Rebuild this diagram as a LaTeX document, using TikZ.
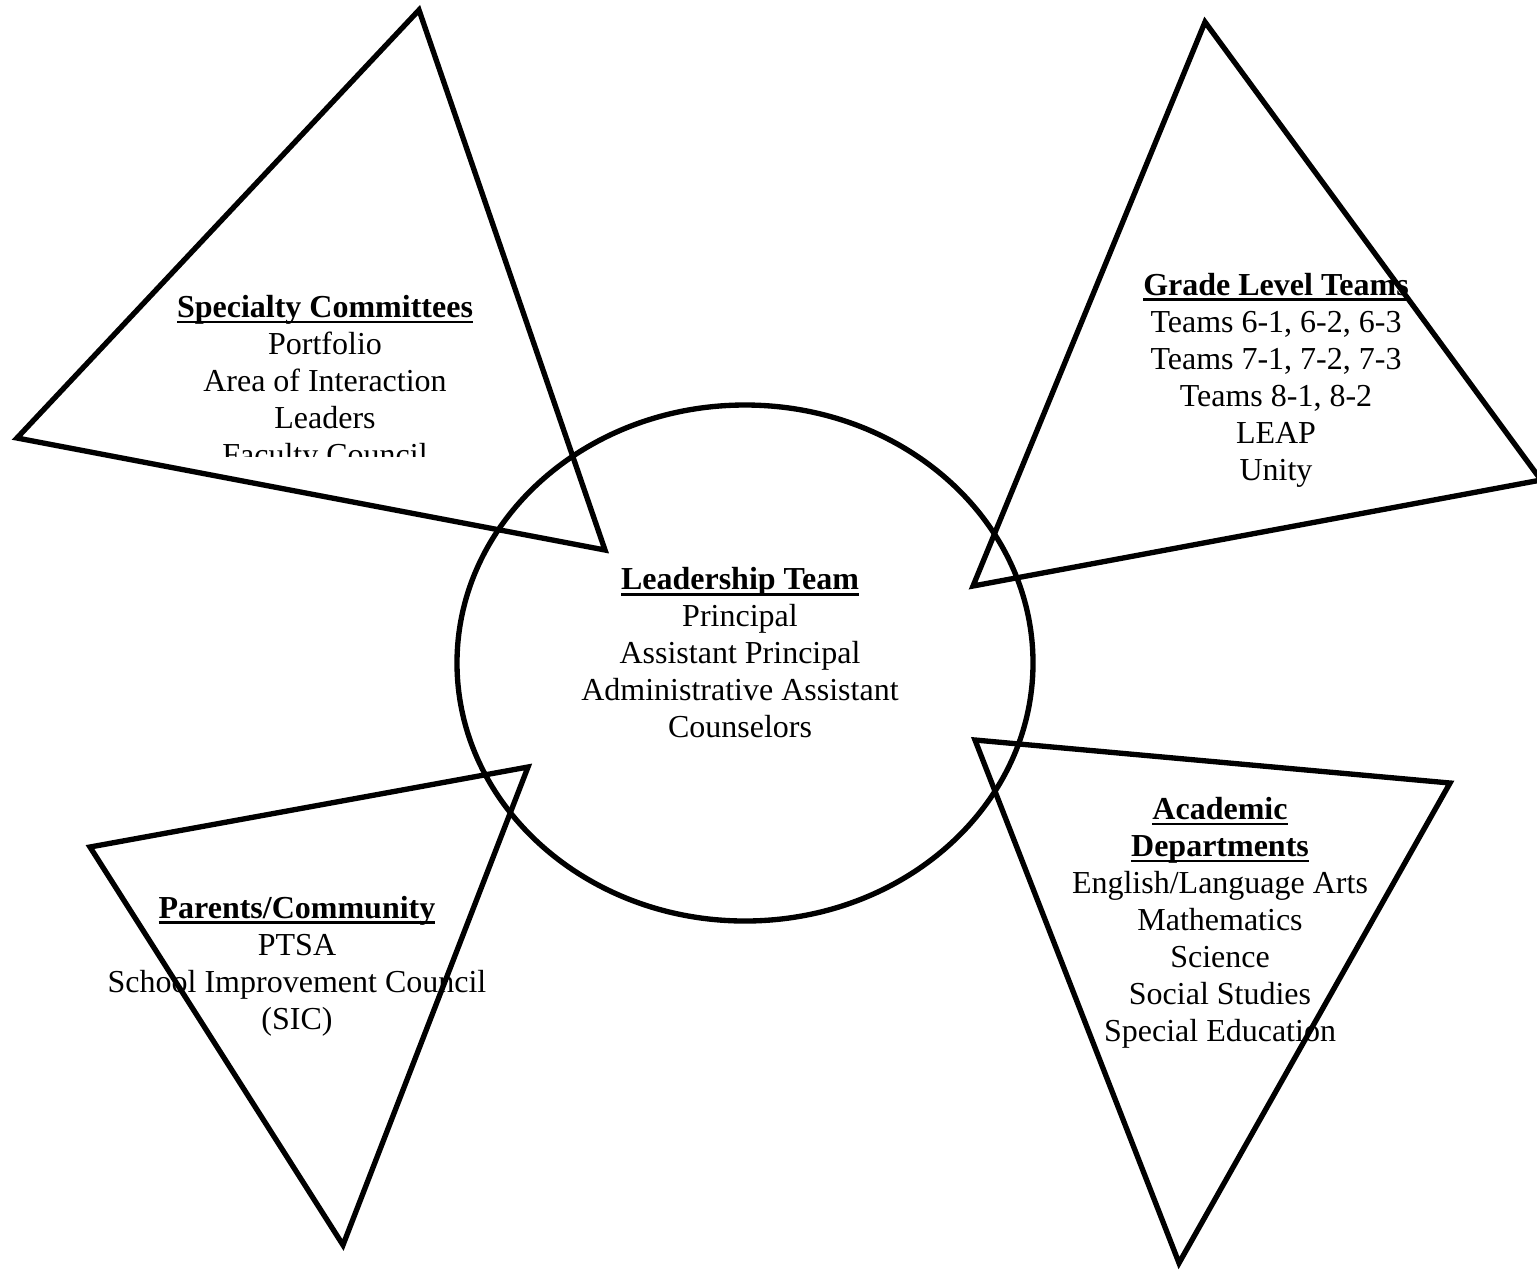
\documentclass[tikz,border=0pt]{standalone}
\usepackage{fontspec}
\setmainfont{Liberation Serif}
\usepackage{tikz}
\usetikzlibrary{positioning}

\newcommand{\hdr}[1]{\setbox0\hbox{\bfseries #1}\leavevmode\rlap{\rule[-2.1pt]{\wd0}{0.9pt}}\box0}

\tikzset{
  block/.style={align=center, inner sep=0pt, font=\fontsize{12}{13.875}\selectfont},
  outline/.style={line width=2pt, line join=miter}
}

\begin{document}
\begin{tikzpicture}[x=0.375pt, y=-0.375pt]
    \useasboundingbox (0,0) rectangle (1537,1269);
    % texts of the five groups
    \node[block] (lead) at (740,653) {\hdr{Leadership Team}\\Principal\\Assistant Principal\\Administrative Assistant\\Counselors};
    \begin{scope}
        \clip (100,250) rectangle (560,456);   % text box cuts the last line
        \node[block, anchor=north] (spec) at (325,295) {\hdr{Specialty Committees}\\Portfolio\\Area of Interaction\\Leaders\\Faculty Council};
    \end{scope}
    \node[block] (grade) at (1276,380) {\hdr{Grade Level Teams}\\Teams 6-1, 6-2, 6-3\\Teams 7-1, 7-2, 7-3\\Teams 8-1, 8-2\\LEAP\\Unity};
    \node[block] (parents) at (297,966) {\hdr{Parents/Community}\\PTSA\\School Improvement Council\\(SIC)};
    \node[block] (acad) at (1220,923) {\hdr{Academic}\\\hdr{Departments}\\English/Language Arts\\Mathematics\\Science\\Social Studies\\Special Education};
    % shapes
    \draw[outline] (745,663) ellipse [x radius=288, y radius=258];   %leadership
    \draw[outline] (419,10) -- (17,438) -- (605,550) -- cycle;        %specialty
    \draw[outline] (1205,22) -- (1541,480) -- (973,586) -- cycle;     %grade level
    \draw[outline] (528,767) -- (90,847) -- (343,1245) -- cycle;      %parents
    \draw[outline] (975,740) -- (1450,783) -- (1179,1263) -- cycle;   %academic
\end{tikzpicture}
\end{document}
